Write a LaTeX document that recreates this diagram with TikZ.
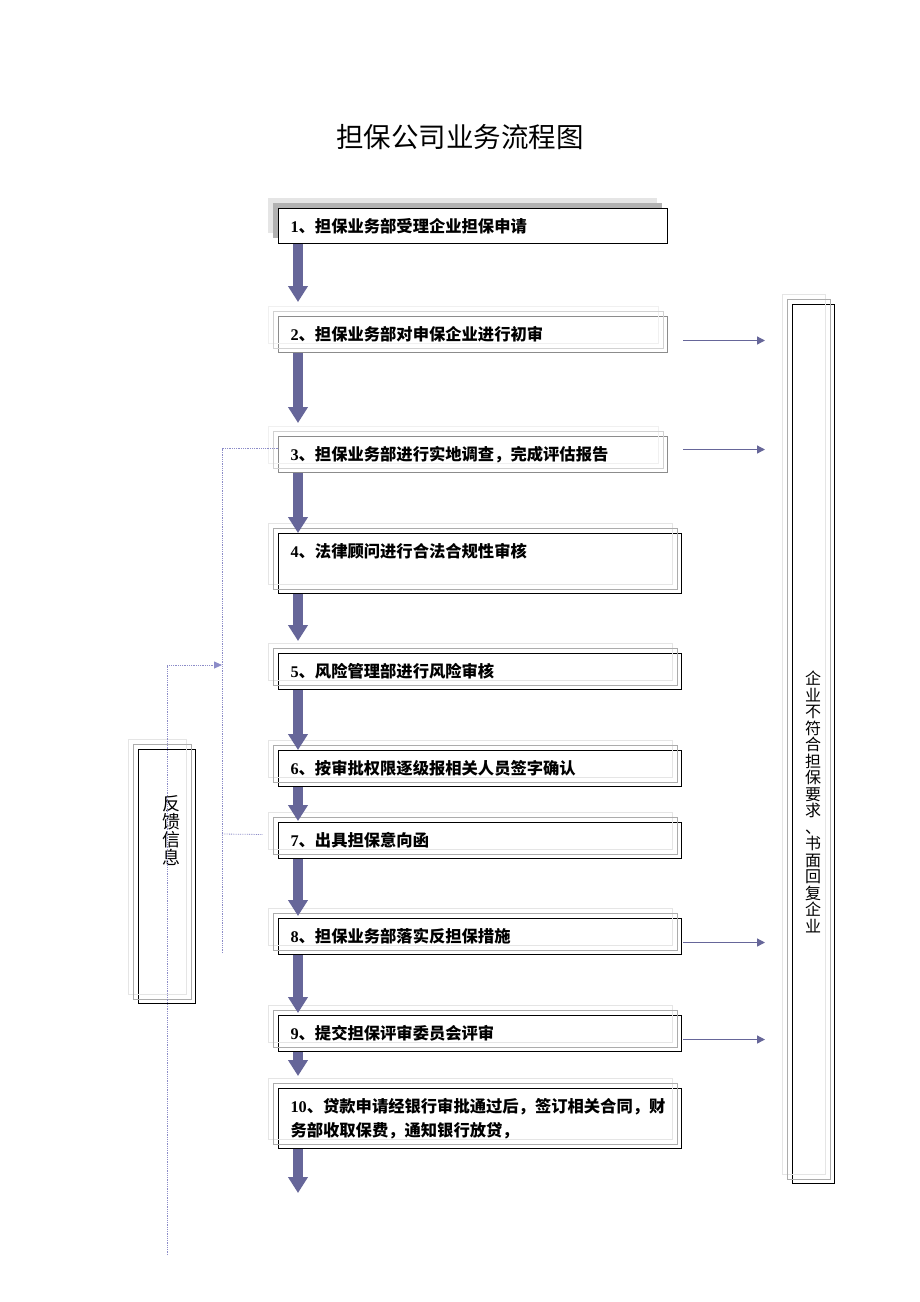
\documentclass[tikz,border=0pt]{standalone}
\usepackage{fontspec}
\setmainfont{Liberation Serif}
\newfontfamily\cjk{Noto Sans CJK SC}
\usetikzlibrary{arrows.meta, positioning, calc}

\definecolor{flowblue}{RGB}{102,102,153}
\definecolor{dotblue}{RGB}{140,140,200}

% step number (serif bold) + chinese text
\newcommand{\stepno}[2]{{\bfseries #1}{\cjk\bfseries #2}}

\begin{document}
\begin{tikzpicture}[x=1pt, y=-1pt,
    box/.style={draw=black, line width=1pt, anchor=north west, align=left,
      text width=379pt, inner xsep=12pt, inner ysep=0pt, minimum height=36pt,
      font=\fontsize{16.3}{24}\selectfont},
    softbox/.style={box, draw=gray!90, text width=365pt},
    tallbox/.style={draw=black, line width=1pt, anchor=north west, inner sep=0pt},
    frameA/.style={draw=gray!20, line width=1pt},
    frameB/.style={draw=gray!65, line width=1pt},
    bigarrow/.style={draw=flowblue, line width=9.5pt, -{Triangle[length=16pt, width=19pt]}},
    sidearrow/.style={draw=flowblue, line width=1.3pt, -{Triangle[length=8pt, width=8pt]}},
    fbline/.style={draw=dotblue, line width=0.8pt, densely dotted}
  ]
    \fill[white] (0,0) rectangle (920,1302);
    \useasboundingbox (0,0) rectangle (920,1302);

    \node[font=\cjk\fontsize{27.5}{27.5}\selectfont] (title) at (460,137) {担保公司业务流程图};

    % box 1 with filled shadow
    \fill[gray!20] (268,198) rectangle ++(389,35);
    \fill[gray!60] (273,203) rectangle ++(389,35);
    \node[box, fill=white, text width=365pt, minimum height=35pt] (b1) at (278,208) {\stepno{1}{、担保业务部受理企业担保申请}};

    \node[softbox] (b2) at (278,316) {\stepno{2}{、担保业务部对申保企业进行初审}};
    \node[softbox] (b3) at (278,436) {\stepno{3}{、担保业务部进行实地调查，完成评估报告}};
    \node[box, minimum height=60pt, text depth=26pt] (b4) at (278,533) {\stepno{4}{、法律顾问进行合法合规性审核}};
    \node[box] (b5) at (278,653) {\stepno{5}{、风险管理部进行风险审核}};
    \node[box] (b6) at (278,750) {\stepno{6}{、按审批权限逐级报相关人员签字确认}};
    \node[box] (b7) at (278,822) {\stepno{7}{、出具担保意向函}};
    \node[box] (b8) at (278,918) {\stepno{8}{、担保业务部落实反担保措施}};
    \node[box] (b9) at (278,1015) {\stepno{9}{、提交担保评审委员会评审}};
    \node[box, minimum height=60pt] (b10) at (278,1088) {\stepno{10}{、贷款申请经银行审批通过后，签订相关合同，财\\务部收取保费，通知银行放贷，}};

    \node[tallbox, minimum width=42pt, minimum height=879pt] (rbox) at (792,304) {};
    \node[font=\cjk\fontsize{16}{16.5}\selectfont, align=center, inner sep=0pt] (rtxt) at (813,802)
      {企\\业\\不\\符\\合\\担\\保\\要\\求\\、\\书\\面\\回\\复\\企\\业};
    \node[tallbox, minimum width=57pt, minimum height=254pt] (fb) at (138,749) {};
    \node[font=\cjk\fontsize{18}{18}\selectfont, align=center, inner sep=0pt] (fbtxt) at (171,831)
      {反\\馈\\信\\息};

    % layered frames
    \foreach \b in {b2,b3} {
      \draw[draw=gray!12, line width=1pt] ([shift={(-10,-10)}]\b.north west) rectangle ([shift={(-10,-10)}]\b.south east);
      \draw[draw=gray!35, line width=1pt] ([shift={(-5,-5)}]\b.north west) rectangle ([shift={(-5,-5)}]\b.south east);
    }
    \foreach \b in {b4,b5,b6,b7,b8,b9,b10,rbox,fb} {
      \draw[frameA] ([shift={(-10,-10)}]\b.north west) rectangle ([shift={(-10,-10)}]\b.south east);
      \draw[frameB] ([shift={(-5,-5)}]\b.north west) rectangle ([shift={(-5,-5)}]\b.south east);
    }

    % main flow
    \foreach \a/\b/\s in {b1/b2/14, b2/b3/13, b3/b4/0, b4/b5/12, b5/b6/0, b6/b7/1, b7/b8/2, b8/b9/2, b9/b10/12}
      \draw[bigarrow, shorten >=\s pt] ([xshift=20pt]\a.south west) -- ([xshift=20pt]\b.north west);
    \coordinate (flowend) at (298,1193);
    \draw[bigarrow] ([xshift=20pt]b10.south west) -- (flowend);

    % rejections
    \foreach \b/\dx/\dy in {b2/15/6, b3/15/-5, b8/1/6, b9/1/6}
      \draw[sidearrow, shorten >=27pt] ($(\b.east)+(\dx,\dy)$) -- ($(\b.east -| rbox.west)+(0,\dy)$);

    % feedback
    \coordinate (fbstart) at (167,1255);
    \coordinate (fbcorner) at (167,665);
    \coordinate (fbhit) at (222,665);
    \coordinate (fbbase) at (222,953);
    \coordinate (fbtap) at (222,834);
    \draw[fbline, -{Triangle[length=8pt, width=7pt]}] (fbstart) -- (fbcorner) -- (fbhit);
    \draw[fbline] (fbbase) |- ($(b3.west)+(0,-6)$);
    \draw[fbline] (fbtap) -- ($(b7.west)+(-15,-6)$);
\end{tikzpicture}
\end{document}
